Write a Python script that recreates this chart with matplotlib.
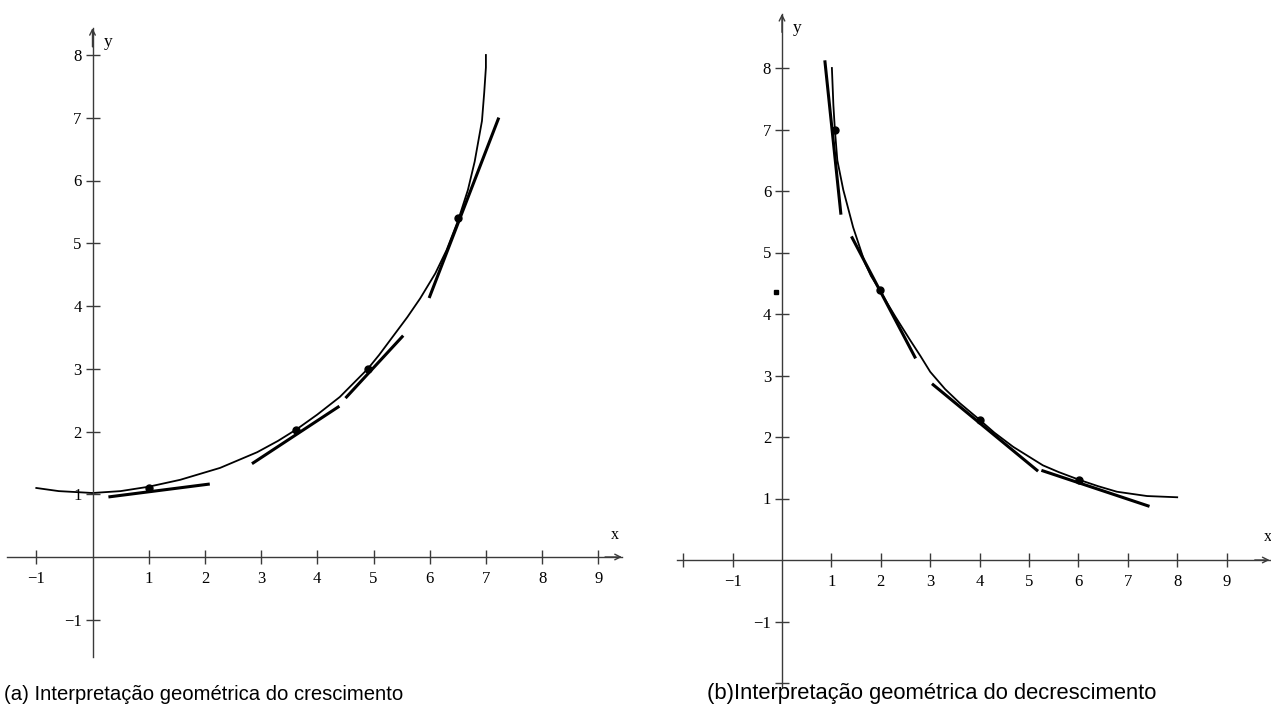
import numpy as np
import matplotlib
matplotlib.use("Agg")
import matplotlib.pyplot as plt

# ---- dados ----
# (a) crescimento
curva_a_x = [-1.0, -0.6, 0.0, 0.5, 1.0, 1.56, 2.27, 2.93, 3.3, 3.64, 4.0, 4.4, 4.9, 5.1, 5.35, 5.6, 5.83, 6.1, 6.3, 6.5, 6.68, 6.8, 6.93, 6.97, 7.0, 7.0]
curva_a_y = [1.10, 1.05, 1.02, 1.05, 1.12, 1.23, 1.42, 1.67, 1.85, 2.04, 2.27, 2.55, 3.0, 3.22, 3.52, 3.82, 4.12, 4.52, 4.89, 5.35, 5.85, 6.3, 6.95, 7.4, 7.8, 8.0]
pontos_a_x = [1.0, 3.62, 4.9, 6.5]
pontos_a_y = [1.1, 2.02, 3.0, 5.4]
tang_a = [((0.31, 0.96), (2.06, 1.16)),
          ((2.86, 1.50), (4.37, 2.39)),
          ((4.52, 2.55), (5.51, 3.51)),
          ((6.0, 4.15), (7.22, 6.98))]

# (b) decrescimento
curva_b_x = [1.01, 1.04, 1.07, 1.12, 1.24, 1.44, 1.68, 1.8, 1.98, 2.15, 2.3, 2.59, 2.8, 3.0, 3.3, 3.6, 4.0, 4.3, 4.68, 5.0, 5.28, 5.6, 6.03, 6.4, 6.78, 7.39, 8.0]
curva_b_y = [8.0, 7.4, 7.0, 6.5, 6.02, 5.41, 4.83, 4.62, 4.39, 4.15, 3.95, 3.58, 3.32, 3.06, 2.78, 2.55, 2.28, 2.07, 1.84, 1.68, 1.54, 1.43, 1.30, 1.20, 1.11, 1.04, 1.02]
pontos_b_x = [1.07, 1.98, 4.0, 6.01]
pontos_b_y = [7.0, 4.39, 2.28, 1.30]
tang_b = [((0.87, 8.1), (1.19, 5.64)),
          ((1.42, 5.24), (2.69, 3.30)),
          ((3.06, 2.85), (5.16, 1.46)),
          ((5.28, 1.45), (7.41, 0.88))]

xticks_a = [-1, 1, 2, 3, 4, 5, 6, 7, 8, 9]
yticks_a = [-1, 1, 2, 3, 4, 5, 6, 7, 8]
xticks_b = [-2, -1, 1, 2, 3, 4, 5, 6, 7, 8, 9]
yticks_b = [-2, -1, 1, 2, 3, 4, 5, 6, 7, 8]

legenda_a = "(a) Interpretação geométrica do crescimento"
legenda_b = "(b)Interpretação geométrica do decrescimento"

W, H = 1271, 720
fig = plt.figure(figsize=(W / 100, H / 100), dpi=100)
fig.patch.set_facecolor('white')

def rotulo(t):
    if t == -2:
        return ''
    return ('\u2212%d' % -t) if t < 0 else '%d' % t

def eixo_px(x0, sx, y0, sy, xlim, ylim):
    # x px = x0 + sx*x ; y px = y0 - sy*y
    left = x0 + sx * xlim[0]
    right = x0 + sx * xlim[1]
    top = y0 - sy * ylim[1]
    bot = y0 - sy * ylim[0]
    ax = fig.add_axes([left / W, (H - bot) / H, (right - left) / W, (bot - top) / H])
    ax.set_xlim(*xlim)
    ax.set_ylim(*ylim)
    ax.patch.set_alpha(0)
    return ax

def desenha_eixos(ax, xb, yb, xt, yt, xlab, ylab):
    cor = '#3a3a3a'
    for s in ['top', 'right']:
        ax.spines[s].set_visible(False)
    ax.spines['left'].set_position(('data', 0))
    ax.spines['bottom'].set_position(('data', 0))
    ax.spines['left'].set_bounds(*yb)
    ax.spines['bottom'].set_bounds(*xb)
    for s in ['left', 'bottom']:
        ax.spines[s].set_color(cor)
        ax.spines[s].set_linewidth(1.0)
    ax.set_xticks(xt, [rotulo(t) for t in xt])
    ax.set_yticks(yt, [rotulo(t) for t in yt])
    ax.tick_params(axis='both', direction='inout', length=9.5, width=1.0, color=cor,
                   labelsize=12)
    ax.tick_params(axis='x', pad=5)
    ax.tick_params(axis='y', pad=3)
    for lb in ax.get_xticklabels() + ax.get_yticklabels():
        lb.set_fontfamily('Liberation Serif')
    # setas
    ax.annotate('', xy=(xb[1], 0), xytext=(xb[1] - 0.3, 0),
                arrowprops=dict(arrowstyle='->', color=cor, lw=1.0, shrinkA=0, shrinkB=0))
    ax.annotate('', xy=(0, yb[1]), xytext=(0, yb[1] - 0.3),
                arrowprops=dict(arrowstyle='->', color=cor, lw=1.0, shrinkA=0, shrinkB=0))
    ax.text(xlab[0], xlab[1], 'x', family='Liberation Serif', fontsize=11.5, ha='center', va='center')
    ax.text(ylab[0], ylab[1], 'y', family='Liberation Serif', fontsize=12.5, ha='center', va='center')

# ---- painel (a) ----
ax1 = eixo_px(92.5, 56.2, 557, 62.75, (-1.6, 9.6), (-1.7, 8.6))
desenha_eixos(ax1, (-1.53, 9.42), (-1.59, 8.43), xticks_a, yticks_a, (9.3, 0.35), (0.27, 8.2))
ax1.plot(curva_a_x, curva_a_y, color='black', lw=1.3, solid_joinstyle='round')
for (p, q) in tang_a:
    ax1.plot([p[0], q[0]], [p[1], q[1]], color='black', lw=2.2)
ax1.plot(pontos_a_x, pontos_a_y, 'o', color='black', ms=5)

# ---- painel (b) ----
ax2 = eixo_px(782, 49.4, 560, 61.5, (-2.2, 9.9), (-2.25, 9.0))
desenha_eixos(ax2, (-2.13, 9.87), (-2.06, 8.88), xticks_b, yticks_b, (9.84, 0.37), (0.3, 8.65))
ax2.plot(curva_b_x, curva_b_y, color='black', lw=1.3, solid_joinstyle='round')
for (p, q) in tang_b:
    ax2.plot([p[0], q[0]], [p[1], q[1]], color='black', lw=2.2)
ax2.plot(pontos_b_x, pontos_b_y, 'o', color='black', ms=5)
ax2.plot([-0.13], [4.36], 's', color='black', ms=2.5)

# legendas
fig.text(204 / W, 1 - 694 / H, legenda_a, family='Liberation Sans', fontsize=14.6,
         ha='center', va='center')
fig.text(932 / W, 1 - 694 / H, legenda_b, family='Liberation Sans', fontsize=15.8,
         ha='center', va='center')

fig.savefig('out.png', dpi=100, facecolor='white')
